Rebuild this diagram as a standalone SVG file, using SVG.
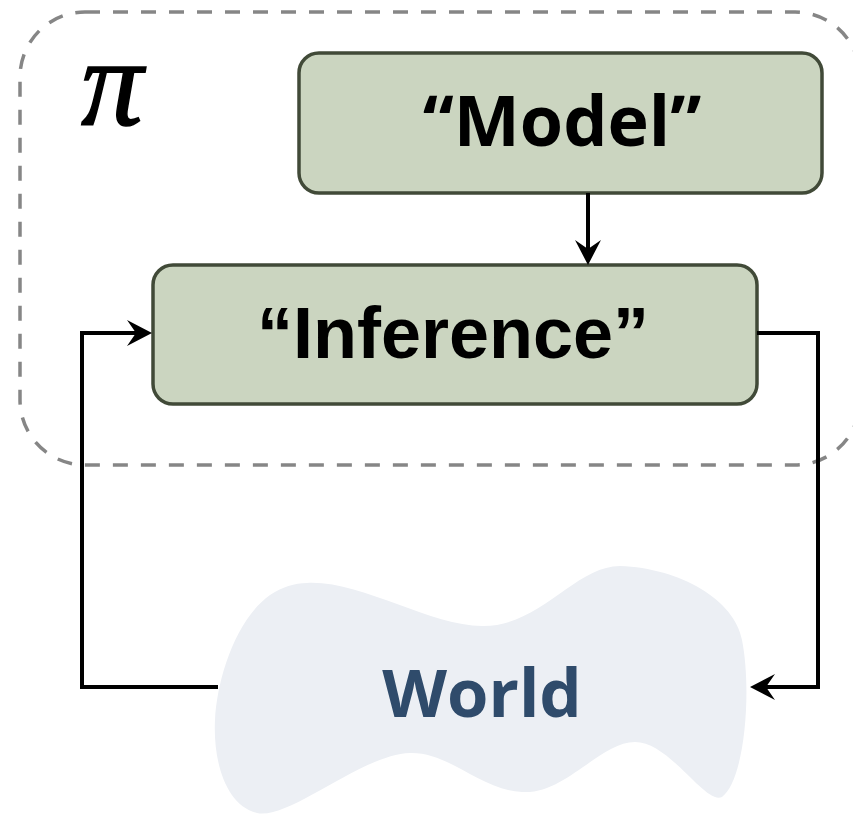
<svg xmlns="http://www.w3.org/2000/svg" width="853" height="814" viewBox="0 0 853 814">
  <defs>
    <!-- arrowhead tip sits 9px beyond the end of the wire -->
    <marker id="arrow" markerUnits="userSpaceOnUse" markerWidth="30" markerHeight="30" refX="16" refY="13" orient="auto" overflow="visible">
      <path d="M0,0 L25,13 L0,26 L9,13 Z" fill="#000"/>
    </marker>
    <style>
      .box { fill: #cbd5c0; stroke: #414a38; stroke-width: 3.5; }
      .label { font-weight: 700; fill: #000; text-anchor: middle; }
      .wire { fill: none; stroke: #000; stroke-width: 4; }
    </style>
  </defs>
  <rect width="853" height="814" fill="#fff"/>

  <!-- policy boundary -->
  <g id="policy">
    <rect x="20" y="12" width="840" height="453" rx="65" fill="none" stroke="#868686" stroke-width="3.5" stroke-dasharray="15 13"/>
    <text x="81" y="125" font-family="'Liberation Serif', serif" font-style="italic" font-size="124" fill="#000" stroke="#000" stroke-width="1.5">π</text>
  </g>

  <!-- world -->
  <g id="world">
    <path d="M307,583 C360,580 430,626 482,626 C540,627 575,566 620,566 C680,568 735,600 742,640 C752,690 745,780 722,797 C705,805 670,742 635,742 C600,742 565,795 522,792 C480,790 450,752 410,753 C360,755 290,820 257,813 C225,805 213,760 215,720 C217,680 235,620 270,595 C282,587 295,583 307,583 Z" fill="#eceff4"/>
    <text x="482" y="717" font-family="'Open Sans', sans-serif" font-weight="700" font-size="67" fill="#2f4b6b" text-anchor="middle">World</text>
  </g>

  <g id="model">
    <rect class="box" x="299" y="53" width="523" height="140" rx="20"/>
    <text class="label" x="562" y="146" font-family="'Open Sans', sans-serif" font-size="70">“Model”</text>
  </g>

  <g id="inference">
    <rect class="box" x="153" y="265" width="604" height="139" rx="20"/>
    <text class="label" x="453" y="358" font-family="'Liberation Sans', Arial, sans-serif" font-size="72">“Inference”</text>
  </g>

  <g id="connectors">
    <path class="wire" d="M588,193 L588,256" marker-end="url(#arrow)"/>
    <path class="wire" d="M218,687 L82,687 L82,333 L143,333" marker-end="url(#arrow)"/>
    <path class="wire" d="M757,333 L818,333 L818,687 L759,687" marker-end="url(#arrow)"/>
  </g>
</svg>
